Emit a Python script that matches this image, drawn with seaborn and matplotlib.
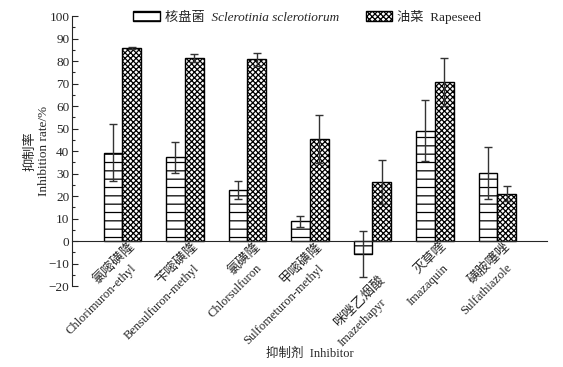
import matplotlib
matplotlib.use("Agg")
import matplotlib.pyplot as plt
import matplotlib.transforms as mtransforms
from matplotlib.patches import Patch
from matplotlib.ticker import MultipleLocator
import pandas as pd
import seaborn as sns

# ---- data ----
inhibitors_cn = ["氯嘧磺隆", "苄嘧磺隆", "氯磺隆", "甲嘧磺隆", "咪唑乙烟酸", "灭草喹", "磺胺噻唑"]
inhibitors_en = ["Chlorimuron-ethyl", "Bensulfuron-methyl", "Chlorsulfuron",
                 "Sulfometuron-methyl", "Imazethapyr", "Imazaquin", "Sulfathiazole"]
groups = ["Sclerotinia", "Rapeseed"]
sclerotinia_rate = [39.3, 37.2, 22.8, 8.7, -5.9, 49.0, 30.2]
sclerotinia_err = [12.5, 7.0, 4.0, 2.5, 10.3, 13.6, 11.7]
rapeseed_rate = [85.8, 81.3, 80.8, 45.5, 26.3, 70.8, 21.0]
rapeseed_err = [0.6, 1.8, 2.8, 10.7, 9.8, 10.6, 3.4]
y_ticks = list(range(-20, 101, 10))

# extra drop (px) of the category labels below the zero line
label_drop = [0, 0, 0, 0, 34, 0, 0]

df = pd.DataFrame({
    "inhibitor": inhibitors_en * 2,
    "group": [groups[0]] * 7 + [groups[1]] * 7,
    "rate": sclerotinia_rate + rapeseed_rate,
    "err": sclerotinia_err + rapeseed_err,
})

sns.set_style("ticks")
plt.rcParams["font.family"] = ["Liberation Serif", "Noto Sans CJK SC"]
plt.rcParams["hatch.linewidth"] = 0.9
FS = 9

fig = plt.figure(figsize=(5.63, 3.67), dpi=100)
ax = fig.add_axes([0.128, 0.2207, 0.972 - 0.128, 0.9564 - 0.2207])

sns.barplot(data=df, x="inhibitor", y="rate", hue="group", hue_order=groups,
            order=inhibitors_en, width=0.6, errorbar=None,
            palette=["white", "white"], edgecolor="black", linewidth=1.0,
            legend=False, ax=ax)

hatches = ["--", "xxxxxx"]
for cont, h, errs in zip(ax.containers, hatches, [sclerotinia_err, rapeseed_err]):
    xs, ys = [], []
    for bar in cont:
        bar.set_hatch(h)
        xs.append(bar.get_x() + bar.get_width() / 2)
        ys.append(bar.get_y() + bar.get_height())
    ax.errorbar(xs, ys, yerr=errs, fmt="none", ecolor="#333333",
                elinewidth=1.0, capsize=3, capthick=1.0, zorder=1)

ax.set_xlim(-0.805, 6.8)
ax.set_ylim(-20, 100)
ax.set_yticks(y_ticks)
ax.yaxis.set_minor_locator(MultipleLocator(5))
ax.tick_params(axis="y", which="major", direction="in", length=4, width=0.8,
               labelsize=FS + 0.5, pad=2)
ax.tick_params(axis="y", which="minor", direction="in", length=2, width=0.8)
ax.tick_params(axis="x", length=0, labelbottom=False)

for side in ["top", "right"]:
    ax.spines[side].set_visible(False)
ax.spines["bottom"].set_position(("data", 0))
ax.spines["left"].set_linewidth(0.8)
ax.spines["bottom"].set_linewidth(0.8)

# two-line rotated category labels (Chinese over Latin name)
ax.set_xticks(range(len(inhibitors_en)))
for i, (cn, en) in enumerate(zip(inhibitors_cn, inhibitors_en)):
    d = label_drop[i]
    t_cn = mtransforms.ScaledTranslation(6 / 100, -(d - 1) / 100, fig.dpi_scale_trans)
    t_en = mtransforms.ScaledTranslation(8 / 100, -(21 + d) / 100, fig.dpi_scale_trans)
    ax.text(i, 0, cn, transform=ax.transData + t_cn, rotation=45,
            rotation_mode="anchor", ha="right", va="top", fontsize=9.5)
    ax.text(i, 0, en, transform=ax.transData + t_en, rotation=45,
            rotation_mode="anchor", ha="right", va="top", fontsize=FS)

ax.set_xlabel("抑制剂  Inhibitor", fontsize=FS)
ax.xaxis.set_label_coords(0.5, -0.23)
ax.set_ylabel("抑制率\nInhibition rate/%", fontsize=FS + 0.5, linespacing=1.2)
ax.yaxis.set_label_coords(-0.047, 0.5)

handles = [Patch(facecolor="white", edgecolor="black", hatch="--", linewidth=1.0),
           Patch(facecolor="white", edgecolor="black", hatch="xxxxxx", linewidth=1.0)]
leg_labels = ["核盘菌  Sclerotinia sclerotiorum", "油菜  Rapeseed"]
leg = fig.legend(handles, leg_labels, loc="center", bbox_to_anchor=(0.546, 0.954),
                 ncol=2, frameon=False, fontsize=9.5, handlelength=2.0,
                 handleheight=0.75, handletextpad=0.4, columnspacing=2.0)
leg.get_texts()[0].set_fontstyle("italic")

fig.savefig("out.png", dpi=100)
